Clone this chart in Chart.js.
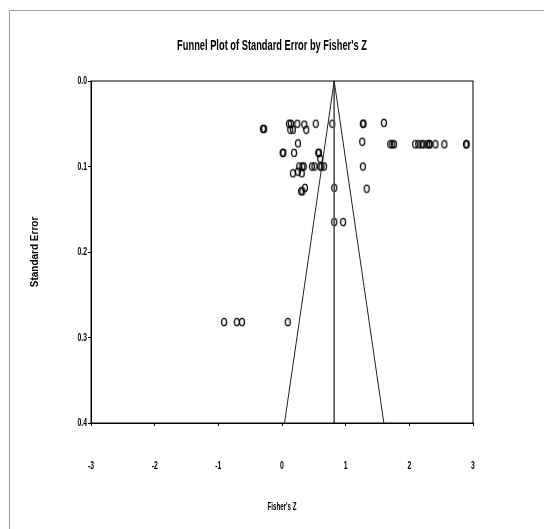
<!DOCTYPE html>
<html>
<head>
<meta charset="utf-8">
<script src="https://cdn.jsdelivr.net/npm/chart.js@4"></script>
<style>
  body { margin: 0; background: #fff; }
  canvas { display: block; }
</style>
</head>
<body>
<canvas id="funnelPlot" width="544" height="529"></canvas>
<script>
// study estimates
const fisherZ = [
  -0.30, -0.28, 0.11, 0.14, 0.13, 0.17, 0.24, 0.35, 0.38, 0.53, 0.79,
  0.25, 0.01, 0.02, 0.19, 0.57, 0.58, 0.60,
  0.27, 0.32, 0.34, 0.47, 0.51, 0.60, 0.62, 0.66,
  0.17, 0.25, 0.31, 0.30, 0.32, 0.36, 0.82, 0.82, 0.96,
  1.27, 1.28, 1.60, 1.26,
  1.70, 1.73, 1.76, 2.09, 2.14, 2.19, 2.22, 2.28, 2.31, 2.32, 2.41, 2.55, 2.89, 2.90,
  1.27, 1.33,
  -0.91, -0.71, -0.63, 0.09
];
const stdError = [
  0.056, 0.056, 0.050, 0.050, 0.057, 0.057, 0.050, 0.051, 0.057, 0.050, 0.050,
  0.073, 0.084, 0.084, 0.084, 0.084, 0.084, 0.091,
  0.100, 0.100, 0.100, 0.100, 0.100, 0.100, 0.100, 0.100,
  0.108, 0.106, 0.108, 0.129, 0.129, 0.125, 0.125, 0.165, 0.165,
  0.050, 0.050, 0.049, 0.071,
  0.074, 0.074, 0.074, 0.074, 0.074, 0.074, 0.074, 0.074, 0.074, 0.074, 0.074, 0.074, 0.074, 0.074,
  0.100, 0.126,
  0.282, 0.282, 0.282, 0.282
];

// summary effect and funnel limits
const summaryZ = 0.82;
const funnelX = [0.04, 0.82, 1.60];
const funnelY = [0.4, 0.0, 0.4];
const centerX = [0.82, 0.82];
const centerY = [0.0, 0.4];

const xTicks = [-3, -2, -1, 0, 1, 2, 3];
const yTicks = [0.0, 0.1, 0.2, 0.3, 0.4];

const FONT = "'Liberation Sans', Arial, sans-serif";

// open oval marker like the original
function makeOval() {
  const c = document.createElement('canvas');
  c.width = 8; c.height = 10;
  const g = c.getContext('2d');
  g.strokeStyle = '#000';
  g.lineWidth = 1.3;
  g.beginPath();
  g.ellipse(4, 5, 2.5, 3.6, 0, 0, Math.PI * 2);
  g.stroke();
  return c;
}

function makeDiamond() {
  const c = document.createElement('canvas');
  c.width = 7; c.height = 11;
  const g = c.getContext('2d');
  g.strokeStyle = '#000';
  g.lineWidth = 1;
  g.beginPath();
  g.moveTo(3.5, 1); g.lineTo(6, 5.5); g.lineTo(3.5, 10); g.lineTo(1, 5.5); g.closePath();
  g.stroke();
  return c;
}

// the original uses a narrow typeface, so squeeze horizontal text
const canvas = document.getElementById('funnelPlot');
const ctx2d = canvas.getContext('2d');
const plainFillText = ctx2d.fillText.bind(ctx2d);
ctx2d.fillText = function (text, x, y) {
  const t = this.getTransform();
  if (t.b !== 0 || t.c !== 0) return plainFillText(text, x, y);
  this.save();
  this.translate(x, y);
  this.scale(0.62, 1);
  plainFillText(text, 0, 0);
  this.restore();
};

const framePlugin = {
  id: 'frame',
  beforeDraw(chart) {
    const ctx = chart.ctx;
    ctx.save();
    ctx.strokeStyle = '#a0a0a0';
    ctx.lineWidth = 1;
    ctx.beginPath();
    ctx.moveTo(9.5, 560);
    ctx.lineTo(9.5, 10.5);
    ctx.lineTo(560, 10.5);
    ctx.stroke();
    ctx.restore();
  },
  afterDraw(chart) {
    const a = chart.chartArea;
    const ctx = chart.ctx;
    ctx.save();
    ctx.strokeStyle = '#000';
    ctx.lineWidth = 1;
    ctx.strokeRect(a.left, a.top, a.right - a.left, a.bottom - a.top);
    ctx.restore();
  }
};

const studies = fisherZ.map((z, i) => ({ x: z, y: stdError[i] }));

new Chart(canvas, {
  type: 'scatter',
  data: {
    datasets: [
      {
        label: 'Funnel',
        data: funnelX.map((x, i) => ({ x: x, y: funnelY[i] })),
        showLine: true,
        borderColor: '#222',
        borderWidth: 1,
        pointRadius: 0,
        tension: 0
      },
      {
        label: 'Summary',
        data: centerX.map((x, i) => ({ x: x, y: centerY[i] })),
        showLine: true,
        borderColor: '#555',
        borderWidth: 1,
        pointRadius: 0
      },
      {
        label: 'Studies',
        data: studies,
        pointStyle: makeOval(),
        pointRadius: 4
      },
      {
        label: 'Diamond',
        data: [{ x: summaryZ, y: 0.412 }],
        pointStyle: makeDiamond(),
        clip: false
      }
    ]
  },
  options: {
    responsive: false,
    animation: false,
    layout: { padding: 0 },
    plugins: {
      legend: { display: false },
      tooltip: { enabled: false },
      title: {
        display: true,
        text: "Funnel Plot of Standard Error by Fisher's Z",
        color: '#000',
        font: { family: FONT, size: 15, weight: 'bold' },
        padding: { top: 37, bottom: 26 }
      }
    },
    scales: {
      x: {
        type: 'linear',
        min: -3, max: 3,
        afterBuildTicks: s => { s.ticks = xTicks.map(v => ({ value: v })); },
        afterFit: s => { s.height = 106; },
        grid: { drawOnChartArea: false, tickLength: 3, color: '#000' },
        border: { color: '#000', width: 1 },
        ticks: {
          color: '#000',
          padding: 33,
          maxRotation: 0,
          font: { family: FONT, size: 11, weight: 'bold' }
        },
        title: {
          display: true,
          text: "Fisher's Z",
          color: '#000',
          font: { family: FONT, size: 10, weight: 'bold' },
          padding: { top: 0, bottom: 16 }
        }
      },
      y: {
        type: 'linear',
        reverse: true,
        min: 0, max: 0.4,
        afterBuildTicks: s => { s.ticks = yTicks.map(v => ({ value: v })); },
        afterFit: s => { s.width = 91; },
        grid: { drawOnChartArea: false, tickLength: 3, color: '#000' },
        border: { color: '#000', width: 1 },
        ticks: {
          color: '#000',
          padding: 1,
          font: { family: FONT, size: 11, weight: 'bold' },
          callback: v => v.toFixed(1)
        },
        title: {
          display: true,
          text: 'Standard Error',
          color: '#000',
          font: { family: FONT, size: 10, weight: 'bold' },
          padding: { top: 29, bottom: 0 }
        }
      },
      // empty right-hand margin so the title stays centred on the page
      yRight: {
        type: 'linear',
        position: 'right',
        min: 0, max: 1,
        afterFit: s => { s.width = 71; },
        grid: { display: false },
        border: { display: false },
        ticks: { display: false }
      }
    }
  },
  plugins: [framePlugin]
});
</script>
</body>
</html>
